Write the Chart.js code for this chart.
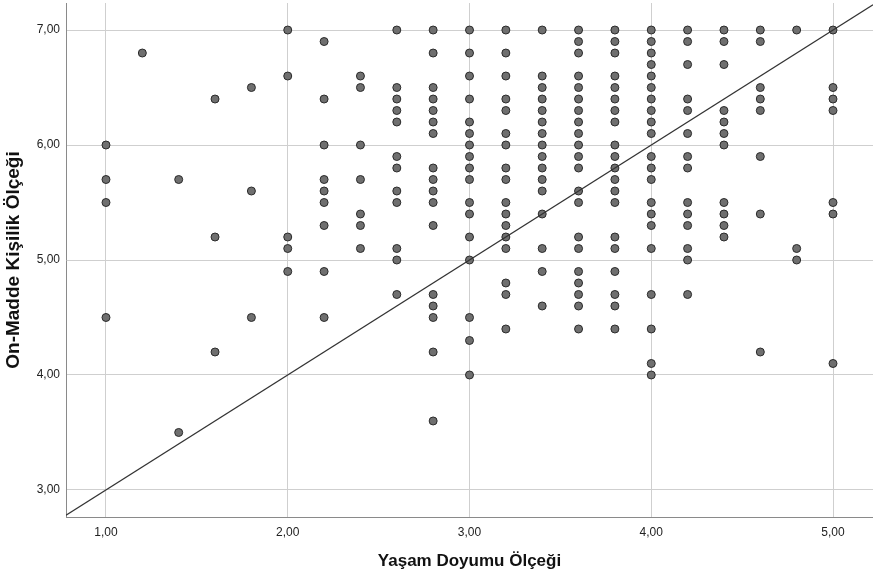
<!DOCTYPE html>
<html>
<head>
<meta charset="utf-8">
<script src="https://cdn.jsdelivr.net/npm/chart.js@4/dist/chart.umd.min.js"></script>
<style>
  html, body { margin: 0; padding: 0; background: #fff; }
  #wrap { width: 873px; height: 581px; }
</style>
</head>
<body>
<div id="wrap"><canvas id="c" width="873" height="581"></canvas></div>
<script>
// X categories (Yaşam Doyumu Ölçeği)
const xLevels = [1.0, 1.2, 1.4, 1.6, 1.8, 2.0, 2.2, 2.4, 2.6, 2.8, 3.0, 3.2, 3.4, 3.6, 3.8, 4.0, 4.2, 4.4, 4.6, 4.8, 5.0];
// Y values observed at each X level (On-Madde Kişilik Ölçeği)
const y_1_0 = [6.0, 5.7, 5.5, 4.5];
const y_1_2 = [6.8];
const y_1_4 = [5.7, 3.5];
const y_1_6 = [6.4, 5.2, 4.2];
const y_1_8 = [6.5, 5.6, 4.5];
const y_2_0 = [7.0, 6.6, 5.2, 5.1, 4.9];
const y_2_2 = [6.9, 6.4, 6.0, 5.7, 5.6, 5.5, 5.3, 4.9, 4.5];
const y_2_4 = [6.6, 6.5, 6.0, 5.7, 5.4, 5.3, 5.1];
const y_2_6 = [7.0, 6.5, 6.4, 6.3, 6.2, 5.9, 5.8, 5.6, 5.5, 5.1, 5.0, 4.7];
const y_2_8 = [7.0, 6.8, 6.5, 6.4, 6.3, 6.2, 6.1, 5.8, 5.7, 5.6, 5.5, 5.3, 4.7, 4.6, 4.5, 4.2, 3.6];
const y_3_0 = [7.0, 6.8, 6.6, 6.4, 6.2, 6.1, 6.0, 5.9, 5.8, 5.7, 5.5, 5.4, 5.2, 5.0, 4.5, 4.3, 4.0];
const y_3_2 = [7.0, 6.8, 6.6, 6.4, 6.3, 6.1, 6.0, 5.8, 5.7, 5.5, 5.4, 5.3, 5.2, 5.1, 4.8, 4.7, 4.4];
const y_3_4 = [7.0, 6.6, 6.5, 6.4, 6.3, 6.2, 6.1, 6.0, 5.9, 5.8, 5.7, 5.6, 5.4, 5.1, 4.9, 4.6];
const y_3_6 = [7.0, 6.9, 6.8, 6.6, 6.5, 6.4, 6.3, 6.2, 6.1, 6.0, 5.9, 5.8, 5.6, 5.5, 5.2, 5.1, 4.9, 4.8, 4.7, 4.6, 4.4];
const y_3_8 = [7.0, 6.9, 6.8, 6.6, 6.5, 6.4, 6.3, 6.2, 6.0, 5.9, 5.8, 5.7, 5.6, 5.5, 5.2, 5.1, 4.9, 4.7, 4.6, 4.4];
const y_4_0 = [7.0, 6.9, 6.8, 6.7, 6.6, 6.5, 6.4, 6.3, 6.2, 6.1, 5.9, 5.8, 5.7, 5.5, 5.4, 5.3, 5.1, 4.7, 4.4, 4.1, 4.0];
const y_4_2 = [7.0, 6.9, 6.7, 6.4, 6.3, 6.1, 5.9, 5.8, 5.5, 5.4, 5.3, 5.1, 5.0, 4.7];
const y_4_4 = [7.0, 6.9, 6.7, 6.3, 6.2, 6.1, 6.0, 5.5, 5.4, 5.3, 5.2];
const y_4_6 = [7.0, 6.9, 6.5, 6.4, 6.3, 5.9, 5.4, 4.2];
const y_4_8 = [7.0, 5.1, 5.0];
const y_5_0 = [7.0, 6.5, 6.4, 6.3, 5.5, 5.4, 4.1];
const yColumns = [y_1_0, y_1_2, y_1_4, y_1_6, y_1_8, y_2_0, y_2_2, y_2_4, y_2_6, y_2_8, y_3_0,
                  y_3_2, y_3_4, y_3_6, y_3_8, y_4_0, y_4_2, y_4_4, y_4_6, y_4_8, y_5_0];

// Reference line endpoints
const lineX = [0.78, 5.22];
const lineY = [2.78, 7.22];

// Tick labels
const xTicks = [1, 2, 3, 4, 5];
const yTicks = [3, 4, 5, 6, 7];

const xTitle = 'Yaşam Doyumu Ölçeği';
const yTitle = 'On-Madde Kişilik Ölçeği';

const points = [];
xLevels.forEach((x, i) => yColumns[i].forEach(y => points.push({ x: x, y: y })));
const linePts = lineX.map((x, i) => ({ x: x, y: lineY[i] }));

const fmt = v => Number(v).toFixed(2).replace('.', ',');
const tickFont = { family: "'Liberation Sans', Arial, sans-serif", size: 12 };
const xTitleFont = { family: "'Liberation Sans', Arial, sans-serif", size: 17, weight: 'bold' };
const yTitleFont = { family: "'Liberation Sans', Arial, sans-serif", size: 19, weight: 'bold' };

new Chart(document.getElementById('c'), {
  type: 'scatter',
  data: {
    datasets: [
      {
        type: 'line',
        data: linePts,
        borderColor: '#333333',
        borderWidth: 1.2,
        pointRadius: 0,
        fill: false,
        order: 0
      },
      {
        data: points,
        pointRadius: 4,
        pointHoverRadius: 4,
        backgroundColor: '#6f6f6f',
        borderColor: '#2a2a2a',
        borderWidth: 1,
        order: 1
      }
    ]
  },
  options: {
    responsive: false,
    animation: false,
    devicePixelRatio: 1,
    layout: { autoPadding: false, padding: { top: 3, right: 0, left: 0, bottom: 0 } },
    plugins: { legend: { display: false }, tooltip: { enabled: false } },
    scales: {
      x: {
        type: 'linear',
        min: 0.78,
        max: 5.22,
        afterBuildTicks: s => { s.ticks = xTicks.map(v => ({ value: v })); },
        afterFit: s => { s.height = 64; s.paddingLeft = 0; s.paddingRight = 0; },
        grid: { color: '#cfcfcf', lineWidth: 1, drawTicks: false },
        border: { display: true, color: '#8a8a8a', width: 1 },
        ticks: { callback: fmt, font: tickFont, color: '#222', padding: 8, maxRotation: 0, autoSkip: false },
        title: { display: true, text: xTitle, font: xTitleFont, color: '#111', padding: { top: 0, bottom: 9 } }
      },
      y: {
        type: 'linear',
        min: 2.765,
        max: 7.235,
        afterBuildTicks: s => { s.ticks = yTicks.map(v => ({ value: v })); },
        afterFit: s => { s.width = 66; s.paddingTop = 0; s.paddingBottom = 0; },
        grid: { color: '#cfcfcf', lineWidth: 1, drawTicks: false },
        border: { display: true, color: '#8a8a8a', width: 1 },
        ticks: { callback: fmt, font: tickFont, color: '#222', padding: 6, autoSkip: false },
        title: { display: true, text: yTitle, font: yTitleFont, color: '#111', padding: { top: 2, bottom: 0 } }
      }
    }
  }
});
</script>
</body>
</html>
